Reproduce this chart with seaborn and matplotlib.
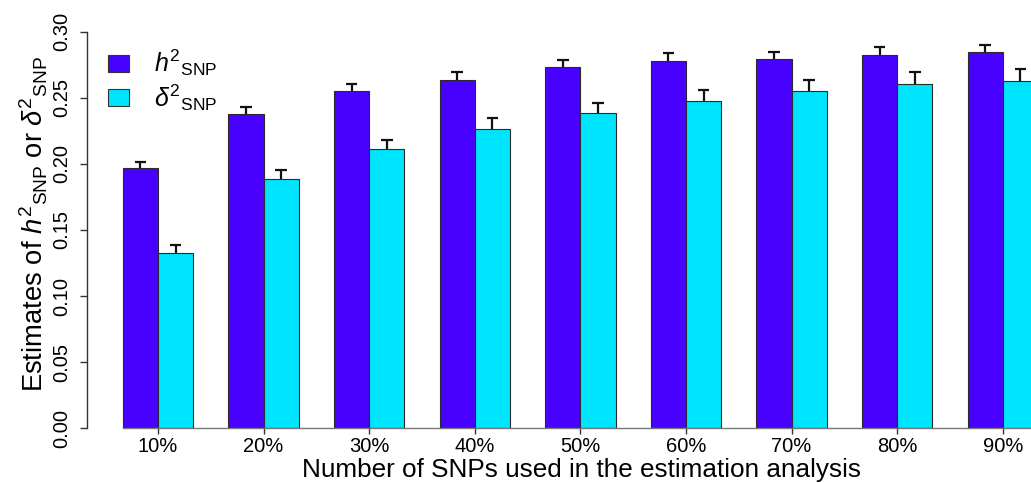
import matplotlib
matplotlib.use("Agg")
import matplotlib.pyplot as plt
import seaborn as sns
import pandas as pd
import numpy as np
from matplotlib.patches import Patch

categories = ["10%", "20%", "30%", "40%", "50%", "60%", "70%", "80%", "90%"]
h2_snp = [0.1967, 0.2377, 0.2549, 0.2632, 0.2733, 0.2776, 0.2793, 0.2824, 0.2844]
h2_se = [0.0047, 0.0050, 0.0058, 0.0060, 0.0055, 0.0060, 0.0056, 0.0058, 0.0058]
d2_snp = [0.1324, 0.1886, 0.2113, 0.2266, 0.2385, 0.2473, 0.2554, 0.2607, 0.2629]
d2_se = [0.0065, 0.0070, 0.0070, 0.0080, 0.0078, 0.0086, 0.0080, 0.0086, 0.0086]
series = ["h2", "d2"]
yticks = [0.00, 0.05, 0.10, 0.15, 0.20, 0.25, 0.30]

PURPLE = "#4800FF"
CYAN = "#00E5FF"

sns.set_theme(style="white")
plt.rcParams["font.family"] = ["Liberation Sans", "DejaVu Sans"]
plt.rcParams["mathtext.fontset"] = "custom"
plt.rcParams["mathtext.rm"] = "Liberation Sans"
plt.rcParams["mathtext.it"] = "Liberation Sans:italic"
plt.rcParams["mathtext.bf"] = "Liberation Sans:bold"
for k in ["text.color", "axes.labelcolor", "xtick.color", "ytick.color"]:
    plt.rcParams[k] = "black"

df = pd.DataFrame({
    "pct": categories * 2,
    "value": h2_snp + d2_snp,
    "series": [series[0]] * len(categories) + [series[1]] * len(categories),
})

W, H = 1031, 483
fig = plt.figure(figsize=(W / 100, H / 100), dpi=100)
ax = fig.add_axes([87 / W, (H - 428.3) / H, 1 - 87 / W, (428.3 - 31.7) / H])

width = 2 / 3
sns.barplot(data=df, x="pct", y="value", hue="series", palette=[PURPLE, CYAN],
            width=width, gap=0, edgecolor="#2a2a2a", linewidth=0.8,
            errorbar=None, legend=False, ax=ax, saturation=1)

# error bars (upper only)
xs = np.arange(len(categories))
off = width / 4
cap = 0.055
for vals, ses, sgn in [(h2_snp, h2_se, -1), (d2_snp, d2_se, 1)]:
    for x, v, s in zip(xs + sgn * off, vals, ses):
        ax.plot([x, x], [v, v + s], color="#111111", lw=1.6, solid_capstyle="butt", clip_on=False)
        ax.plot([x - cap, x + cap], [v + s, v + s], color="#111111", lw=1.6, solid_capstyle="butt", clip_on=False)

ax.set_xlim(-(158 - 87) / 105.6, (1031 - 158) / 105.6)
ax.set_ylim(0, 0.30)
ax.set_xlabel("")
ax.set_ylabel("")

for s in ["top", "right"]:
    ax.spines[s].set_visible(False)
ax.spines["left"].set_bounds(0, 0.30)
ax.spines["left"].set_color("#333333")
ax.spines["left"].set_linewidth(1.0)
ax.spines["bottom"].set_bounds(-width / 2, ax.get_xlim()[1])
ax.spines["bottom"].set_color("#777777")
ax.spines["bottom"].set_linewidth(1.0)

ax.set_yticks(yticks)
ax.set_yticklabels([f"{t:.2f}" for t in yticks], rotation=90, va="center", fontsize=14.5)
ax.set_xticks(xs)
ax.set_xticklabels(categories, fontsize=14.5)
ax.tick_params(axis="y", length=5, width=1, color="#333333", pad=6, left=True)
ax.tick_params(axis="x", length=4, width=1, color="#333333", pad=2, bottom=True)

fig.text(581 / W, 1 - 482 / H, "Number of SNPs used in the estimation analysis",
         ha="center", va="bottom", fontsize=18.8)
fig.text(34 / W, 1 - 224 / H,
         r"Estimates of $h^{2}{}_{\mathrm{SNP}}$ or $\delta^{2}{}_{\mathrm{SNP}}$",
         rotation=90, ha="center", va="center", fontsize=19.7)

handles = [Patch(facecolor=PURPLE, edgecolor="#333333", linewidth=0.8),
           Patch(facecolor=CYAN, edgecolor="#333333", linewidth=0.8)]
labels = [r"$h^{2}{}_{\mathrm{SNP}}$", r"$\delta^{2}{}_{\mathrm{SNP}}$"]
ax.legend(handles, labels, loc="upper left", bbox_to_anchor=(110 / W - 87 / W, 1.0 - 16 / 396.6),
          bbox_transform=ax.transAxes, frameon=False, fontsize=18,
          handlelength=0.84, handleheight=0.65, handletextpad=1.0, labelspacing=0.15,
          borderaxespad=0, borderpad=0)

fig.savefig("out.png", dpi=100)
